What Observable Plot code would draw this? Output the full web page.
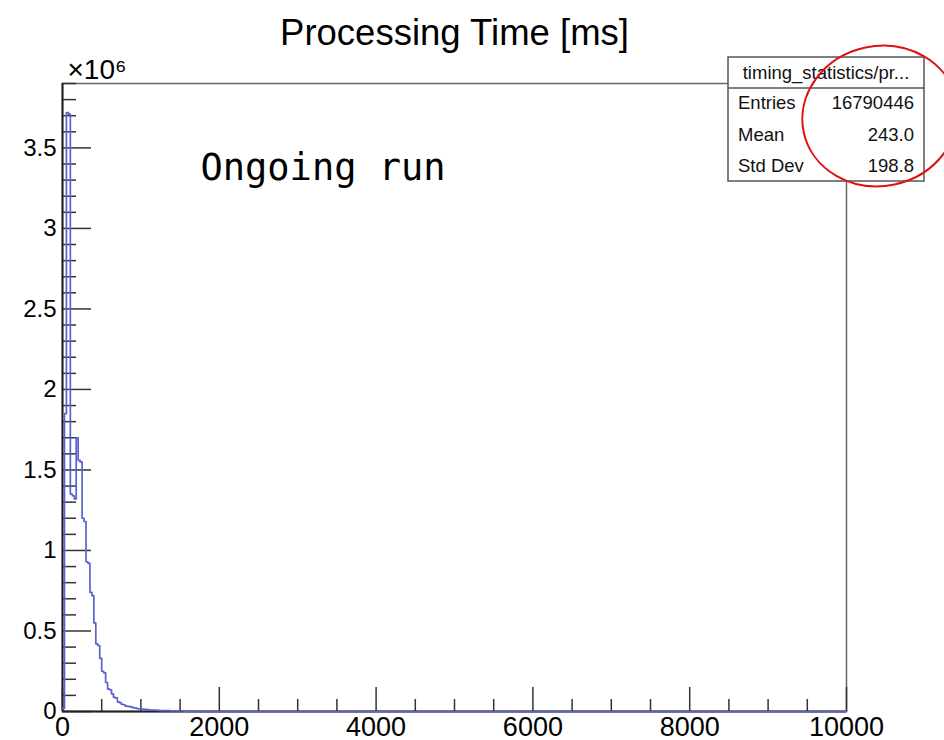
<!DOCTYPE html>
<html>
<head>
<meta charset="utf-8">
<script src="https://cdn.jsdelivr.net/npm/d3@7"></script>
<script src="https://cdn.jsdelivr.net/npm/@observablehq/plot@0.6"></script>
<style>
  body { margin: 0; background: #fff; }
  #chart { width: 944px; height: 740px; }
</style>
</head>
<body>
<div id="chart"></div>
<script>
// Processing-time histogram: 25 ms bins, counts in units of 10^6 entries.
const binWidth = 25;
const xMax = 10000;
const yMax = 3.9;
const counts = [
  0.02, 1.85, 3.72, 3.71, 1.35, 1.34, 1.32, 1.70, 1.56, 1.55,
  1.20, 1.18, 0.93, 0.92, 0.74, 0.72, 0.55, 0.42, 0.41, 0.33,
  0.25, 0.24, 0.18, 0.14, 0.135, 0.11, 0.088, 0.085, 0.06, 0.055,
  0.045, 0.042, 0.034, 0.032, 0.030, 0.027, 0.023, 0.021, 0.017, 0.016,
  0.015, 0.014, 0.013, 0.012, 0.010, 0.009, 0.008, 0.008, 0.007, 0.007,
  0.006, 0.006, 0.005, 0.005, 0.005, 0.004, 0.004, 0.004, 0.003, 0.003,
  0.003, 0.003, 0.002, 0.002
];

// Axis ticks
const xLabelTicks = [0, 2000, 4000, 6000, 8000, 10000];
const xMinorTicks = [500, 1000, 1500, 2500, 3000, 3500, 4500, 5000, 5500, 6500, 7000, 7500, 8500, 9000, 9500];
const yLabelTicks = [0, 0.5, 1, 1.5, 2, 2.5, 3, 3.5];
const yMinorTicks = [0.1, 0.2, 0.3, 0.4, 0.6, 0.7, 0.8, 0.9, 1.1, 1.2, 1.3, 1.4, 1.6, 1.7, 1.8, 1.9,
  2.1, 2.2, 2.3, 2.4, 2.6, 2.7, 2.8, 2.9, 3.1, 3.2, 3.3, 3.4, 3.6, 3.7, 3.8, 3.9];

// Statistics box contents
const statsTitle = "timing_statistics/pr...";
const statsRows = [["Entries", "16790446"], ["Mean", "243.0"], ["Std Dev", "198.8"]];

// Step outline of the histogram: one point per bin edge, empty bins up to xMax
const nBins = xMax / binWidth;
const steps = [];
for (let i = 0; i < nBins; i++) steps.push({x: i * binWidth, y: counts[i] ?? 0});
steps.push({x: xMax, y: 0});

const W = 944, H = 740;
const mL = 62, mR = 98, mT = 83, mB = 29;
const frameW = W - mL - mR, frameH = H - mT - mB;
const font = "'Liberation Sans', Arial, Helvetica, sans-serif";

const chart = Plot.plot({
  width: W,
  height: H,
  marginLeft: mL, marginRight: mR, marginTop: mT, marginBottom: mB,
  style: {fontFamily: font, background: "#fff", overflow: "visible"},
  x: {domain: [0, xMax], label: null},
  y: {domain: [0, yMax], label: null},
  marks: [
    Plot.frame({stroke: "#666", strokeWidth: 1.5}),
    // inward-pointing ticks
    Plot.ruleY(yMinorTicks, {y: d => d, insetRight: frameW - 14, stroke: "#333", strokeWidth: 1.5}),
    Plot.ruleY(yLabelTicks, {y: d => d, insetRight: frameW - 29, stroke: "#333", strokeWidth: 1.5}),
    Plot.ruleX(xMinorTicks, {x: d => d, insetTop: frameH - 12, stroke: "#333", strokeWidth: 1.5}),
    Plot.ruleX(xLabelTicks, {x: d => d, insetTop: frameH - 24, stroke: "#333", strokeWidth: 1.5}),
    Plot.ruleX([0], {stroke: "#222", strokeWidth: 2}),
    Plot.ruleY([0], {stroke: "#222", strokeWidth: 2}),
    Plot.line(steps, {x: "x", y: "y", curve: "step-after", stroke: "#5b62cc", strokeWidth: 1.7}),
    Plot.axisY(yLabelTicks, {tickSize: 0, tickPadding: 6, fontSize: 24, fill: "#000", label: null, tickFormat: d => String(d)}),
    Plot.axisX(xLabelTicks, {tickSize: 0, tickPadding: 5, fontSize: 27, fill: "#000", label: null, tickFormat: d => String(d)}),
    Plot.text(["Processing Time [ms]"], {frameAnchor: "top", dy: -64, fontSize: 36.5, fill: "#000"}),
    Plot.text(["×10⁶"], {frameAnchor: "top-left", dx: 5, dy: -24, fontSize: 28, fill: "#000"}),
    Plot.text(["Ongoing run"], {frameAnchor: "top-left", dx: 138, dy: 70, fontSize: 37, fill: "#000",
      fontFamily: "'DejaVu Sans Mono', 'Liberation Mono', monospace"})
  ]
});
document.getElementById("chart").appendChild(chart);

// Statistics box in the top-right corner
const svg = d3.select(chart);
const box = {x: 728, y: 57, w: 196, h: 124, head: 31, row: 31.5};
const g = svg.append("g").attr("font-family", font).attr("font-size", 18.5)
  .attr("fill", "#111").attr("text-anchor", "start");
g.append("rect").attr("x", box.x).attr("y", box.y).attr("width", box.w).attr("height", box.h)
  .attr("fill", "#fff").attr("stroke", "#555").attr("stroke-width", 1.5);
g.append("line").attr("x1", box.x).attr("x2", box.x + box.w)
  .attr("y1", box.y + box.head).attr("y2", box.y + box.head)
  .attr("stroke", "#555").attr("stroke-width", 1.5);
g.append("text").attr("x", box.x + box.w / 2).attr("y", box.y + 22).attr("text-anchor", "middle").text(statsTitle);
statsRows.forEach(([k, v], i) => {
  const y = box.y + box.head + 21 + i * box.row;
  g.append("text").attr("x", box.x + 10).attr("y", y).attr("text-anchor", "start").text(k);
  g.append("text").attr("x", box.x + box.w - 10).attr("y", y).attr("text-anchor", "end").text(v);
});

// Red circle highlighting the summary values
svg.append("ellipse").attr("cx", 880).attr("cy", 116).attr("rx", 78).attr("ry", 70)
  .attr("transform", "rotate(-12 880 116)")
  .attr("fill", "none").attr("stroke", "#e01010").attr("stroke-width", 2);
</script>
</body>
</html>
